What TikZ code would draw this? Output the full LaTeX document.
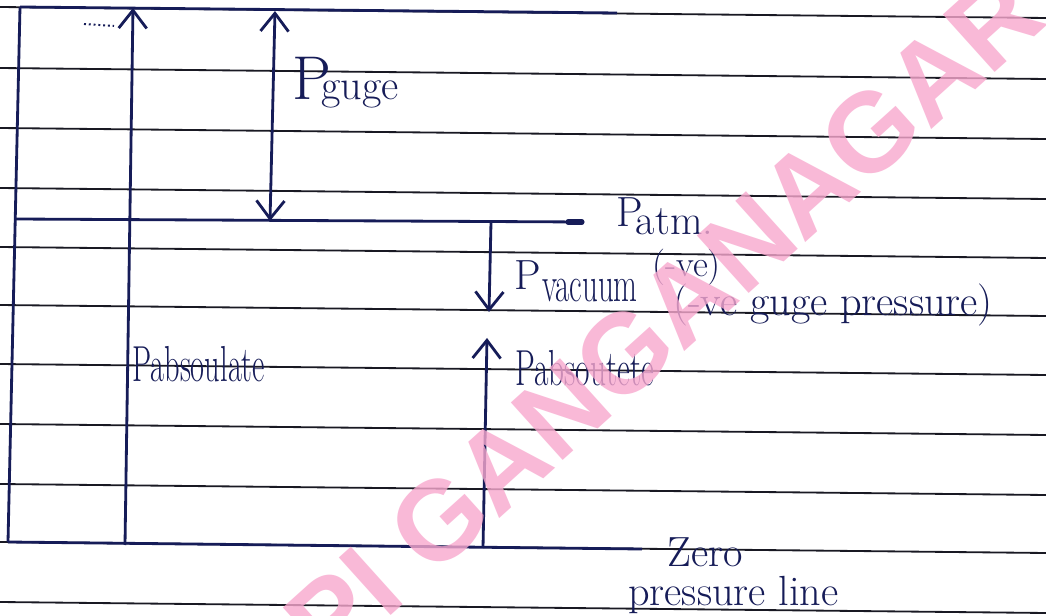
\documentclass[tikz,border=0pt]{standalone}
\usepackage{fontspec}
\usetikzlibrary{arrows.meta, calc}

\newfontfamily\wmfont{Liberation Sans}
\definecolor{ink}{RGB}{22,28,88}
\definecolor{ruling}{RGB}{25,25,35}
\definecolor{wmpink}{RGB}{248,168,206}
\newcommand{\squeeze}[2][0.74]{\scalebox{#1}[1]{#2}}

\begin{document}
\begin{tikzpicture}[
  x=0.025cm, y=-0.025cm,
  ruled/.style={draw=ruling, line width=1.3pt},
  diag/.style={draw=ink, line width=2pt},
  arrow/.style={diag, -{Straight Barb[length=4.5mm, width=7mm]}},
  dblarrow/.style={diag, {Straight Barb[length=4.5mm, width=7mm]}-{Straight Barb[length=4.5mm, width=7mm]}},
  hand/.style={text=ink, anchor=base west, inner sep=0pt, font=\fontsize{30}{34}\selectfont},
  handtall/.style={hand, font=\fontsize{36}{40}\selectfont},
  handsmall/.style={hand, font=\fontsize{26}{30}\selectfont},
  wmark/.style={text=wmpink, opacity=0.8, font=\wmfont\bfseries\fontsize{80}{88}\selectfont}
]

\useasboundingbox (0,0) rectangle (1046,616);
\clip (0,0) rectangle (1046,616);
\fill[white] (0,0) rectangle (1046,616);

% ============================================================
% Notebook ruling
% ============================================================

\foreach \y in {7,68,128,188,247,305,364,424,484,542,602}
  \draw[ruled] (0,\y) -- (1046,\y+11);

% ============================================================
% Pressure levels
% ============================================================

\coordinate (tl) at (20,7);
\coordinate (bl) at (8,542);
\coordinate (tr) at (617,13);
\coordinate (abstop) at (133,8);
\coordinate (absbot) at (125,545);
\coordinate (gtop) at (275,11);
\coordinate (gbot) at (270,221);
\coordinate (atml) at (15,219);
\coordinate (atmtip) at (568,222);
\coordinate (atmr) at (582,222);
\coordinate (vtop) at (491,222);
\coordinate (vbot) at (489,312);
\coordinate (abs2top) at (487,338);
\coordinate (abs2bot) at (483,548);
\coordinate (zr) at (642,549);
\coordinate (dotsl) at (84,24);
\coordinate (dotsr) at (114,26);

\draw[diag] (tl) -- (tr);
\draw[diag] (tl) -- (bl);
\draw[diag] (bl) -- (zr);
\draw[diag] (atml) -- (atmr);
\draw[ink, line width=3.6pt, line cap=round] (atmtip) -- (atmr);
\draw[ink, dotted, line width=1.4pt] (dotsl) -- (dotsr);

% arrows
\draw[arrow] (absbot) -- (abstop);
\draw[dblarrow] (gtop) -- (gbot);
\draw[arrow] (vtop) -- (vbot);
\draw[arrow] (abs2bot) -- (abs2top);

% ============================================================
% Labels
% ============================================================

\node[hand] (pgauge) at (292,100) {{\fontsize{44}{48}\selectfont P}\kern-7pt guge};
\node[hand] (patm) at (616,227) {P\kern-5pt\raisebox{-5pt}{atm.}};
\node[hand] (pvac) at (514,290) {P};
\node[handtall] (vacname) at (542,302) {\squeeze[0.61]{vacuum}};
\node[handsmall] (negsign) at (652,277) {(-ve)};
\node[hand] (negnote) at (673,316) {(-ve guge pressure)};
\node[handtall] (pabsl) at (132,382) {\squeeze[0.6]{Pabsoulate}};
\node[handtall] (pabsr) at (515,386) {\squeeze[0.62]{Pabsoutete}};
\node[hand] (zero) at (667,566) {Zero};
\node[hand] (zeroline) at (628,605) {pressure line};

% ============================================================
% Watermark
% ============================================================

\node[wmark, rotate=42] (wm) at (664,318) {PI GANGANAGAR};

\end{tikzpicture}
\end{document}
